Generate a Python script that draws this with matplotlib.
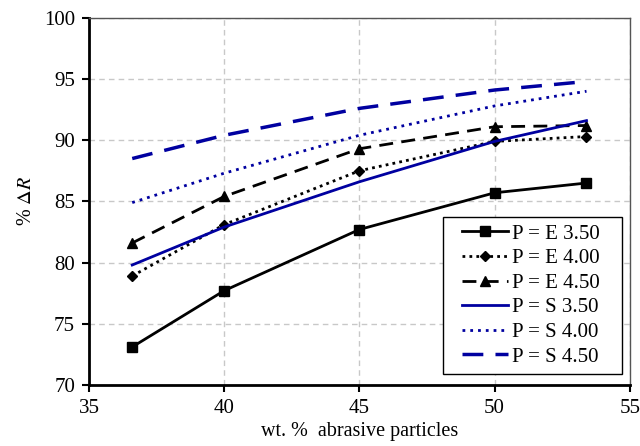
import matplotlib.pyplot as plt
from matplotlib.path import Path

plt.rcParams['font.family'] = ['Liberation Serif', 'DejaVu Serif']
plt.rcParams['mathtext.fontset'] = 'stix'

wt = [36.6, 40, 45, 50, 53.4]

e350 = [73.1, 77.7, 82.7, 85.7, 86.5]
e400 = [78.9, 83.1, 87.5, 89.9, 90.3]
e450 = [81.6, 85.4, 89.3, 91.1, 91.2]
s350 = [79.8, 82.9, 86.6, 89.9, 91.6]
s400 = [84.9, 87.3, 90.4, 92.8, 94.0]
s450 = [88.5, 90.4, 92.6, 94.1, 94.8]

blue = '#0000a0'


def legend_frame(x0, y0, width, height, mutation_size):
    # wider padding left/right than top/bottom, like the Excel legend box
    left = 0.53 * mutation_size
    right = 0.72 * mutation_size
    return Path([(x0 - left, y0), (x0 + width + right, y0),
                 (x0 + width + right, y0 + height), (x0 - left, y0 + height),
                 (x0 - left, y0)], closed=True)


fig, ax = plt.subplots(figsize=(6.4, 4.46), dpi=100)
fig.subplots_adjust(left=0.139, right=0.984, top=0.96, bottom=0.137)

ax.plot(wt, e350, color='black', lw=2, marker='s', ms=7, label='P = E 3.50')
ax.plot(wt, e400, color='black', lw=2, ls=(0, (1, 1.5)), marker='D', ms=5, label='P = E 4.00')
ax.plot(wt, e450, color='black', lw=2, ls=(0, (5, 3)), marker='^', ms=7, label='P = E 4.50')
ax.plot(wt, s350, color=blue, lw=2, label='P = S 3.50')
ax.plot(wt, s400, color=blue, lw=2, ls=(0, (1, 1.8)), label='P = S 4.00')
ax.plot(wt, s450, color=blue, lw=2.5, ls=(0, (6, 3.5)), label='P = S 4.50')

ax.set_xlim(35, 55)
ax.set_ylim(70, 100)
ax.set_xticks([35, 40, 45, 50, 55])
ax.set_yticks([70, 75, 80, 85, 90, 95, 100])
ax.grid(True, color='#c8c8c8', ls=(0, (4, 3)), lw=1)
ax.set_axisbelow(True)

for s in ['top', 'right']:
    ax.spines[s].set_color('#555555')
    ax.spines[s].set_linewidth(1)
for s in ['left', 'bottom']:
    ax.spines[s].set_linewidth(2)
ax.tick_params(direction='out', length=5, width=1.5, labelsize=15, pad=5)

ax.set_xlabel('wt. %  abrasive particles', fontsize=14.5, labelpad=3)
ax.set_ylabel(r'% $\mathit{\Delta R}$', fontsize=14.5, labelpad=6)

leg = ax.legend(loc='lower right', bbox_to_anchor=(0.9575, 0.03), fontsize=15,
                frameon=True, fancybox=False, edgecolor='black', framealpha=1,
                handlelength=2.2, handletextpad=0.2, borderpad=0.35,
                labelspacing=0.24, borderaxespad=0)
leg.get_frame().set_linewidth(1)
leg.get_frame().set_boxstyle(legend_frame)

fig.savefig('out.png', dpi=100)
